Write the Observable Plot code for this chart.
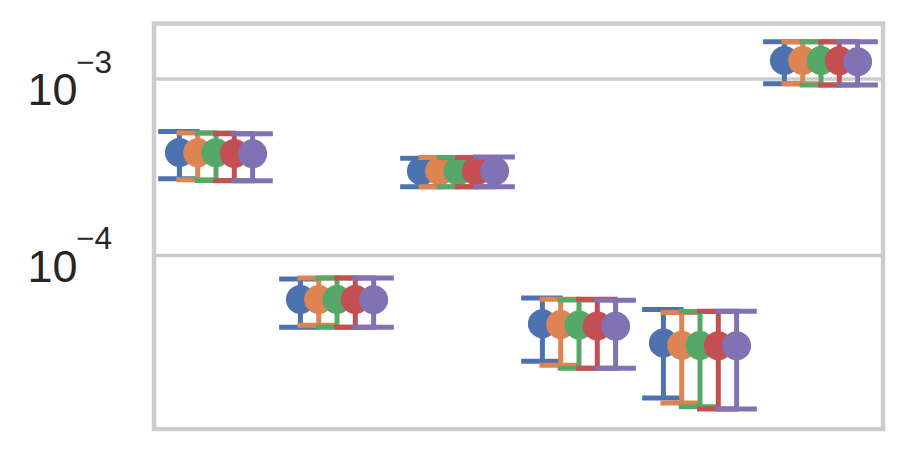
<!DOCTYPE html>
<html><head><meta charset="utf-8">
<script src="https://cdn.jsdelivr.net/npm/d3@7"></script>
<script src="https://cdn.jsdelivr.net/npm/@observablehq/plot@0.6"></script>
<style>body{margin:0;background:#fff}</style>
</head><body><div id="chart"></div>
<script>
const groups = ["1", "2", "3", "4", "5", "6"];
const seriesNames = ["A", "B", "C", "D", "E"];
const seriesColors = ["#4C72B0", "#DD8452", "#55A868", "#C44E52", "#8172B3"];

// point estimates, per series (rows) across groups (columns)
const means = [
  [3.83e-4, 5.64e-5, 3.01e-4, 4.11e-5, 3.19e-5, 1.275e-3],
  [3.82e-4, 5.64e-5, 3.01e-4, 4.06e-5, 3.10e-5, 1.275e-3],
  [3.82e-4, 5.64e-5, 3.01e-4, 4.04e-5, 3.09e-5, 1.272e-3],
  [3.79e-4, 5.64e-5, 3.01e-4, 3.99e-5, 3.08e-5, 1.269e-3],
  [3.77e-4, 5.62e-5, 3.01e-4, 3.97e-5, 3.08e-5, 1.252e-3]
];
const lowers = [
  [2.72e-4, 3.92e-5, 2.45e-4, 2.52e-5, 1.56e-5, 0.941e-3],
  [2.69e-4, 4.02e-5, 2.45e-4, 2.39e-5, 1.46e-5, 0.941e-3],
  [2.66e-4, 3.92e-5, 2.45e-4, 2.30e-5, 1.39e-5, 0.925e-3],
  [2.65e-4, 3.92e-5, 2.45e-4, 2.30e-5, 1.35e-5, 0.925e-3],
  [2.65e-4, 3.92e-5, 2.45e-4, 2.30e-5, 1.35e-5, 0.925e-3]
];
const uppers = [
  [5.04e-4, 7.35e-5, 3.56e-4, 5.74e-5, 4.95e-5, 1.624e-3],
  [4.95e-4, 7.46e-5, 3.59e-4, 5.66e-5, 4.76e-5, 1.624e-3],
  [4.95e-4, 7.46e-5, 3.59e-4, 5.59e-5, 4.81e-5, 1.624e-3],
  [4.89e-4, 7.46e-5, 3.59e-4, 5.66e-5, 4.84e-5, 1.624e-3],
  [4.89e-4, 7.46e-5, 3.62e-4, 5.57e-5, 4.84e-5, 1.624e-3]
];

const yTicks = [1e-4, 1e-3];
const tickBase = ["10", "10"];
const tickExponents = ["\u22124", "\u22123"];

const rows = [];
seriesNames.forEach((s, i) => groups.forEach((g, j) => rows.push({
  series: s, si: i, group: g, mean: means[i][j], lower: lowers[i][j], upper: uppers[i][j]
})));

const W = 900, H = 450;
const mL = 153.5, mR = 17.5, mT = 23, mB = 21.5;
const band = (W - mL - mR) / groups.length;
const dodge = 18.3;
const capHalf = 21;
const capInset = band / 2 - capHalf;
const lw = 5;
const font = "Liberation Sans, Arial, Helvetica, sans-serif";

const marks = [Plot.ruleY(yTicks, {stroke: "#cccccc", strokeWidth: 3.5})];
seriesNames.forEach((s, i) => {
  const data = rows.filter(d => d.series === s);
  const dx = (i - (seriesNames.length - 1) / 2) * dodge;
  marks.push(
    Plot.ruleX(data, {x: "group", y1: "lower", y2: "upper", stroke: "series", strokeWidth: lw, dx}),
    Plot.tickY(data, {x: "group", y: "lower", stroke: "series", strokeWidth: lw, dx, insetLeft: capInset, insetRight: capInset}),
    Plot.tickY(data, {x: "group", y: "upper", stroke: "series", strokeWidth: lw, dx, insetLeft: capInset, insetRight: capInset}),
    Plot.dot(data, {x: "group", y: "mean", r: 14.5, fill: "series", stroke: "none", dx})
  );
});
marks.push(
  Plot.frame({stroke: "#cccccc", strokeWidth: 4.5}),
  Plot.text(yTicks, {y: d => d, text: tickBase, frameAnchor: "left", textAnchor: "end", lineAnchor: "bottom",
    dx: -76.5, dy: 26, fontSize: 45, fontFamily: font, fill: "#262626"}),
  Plot.text(yTicks, {y: d => d, text: tickExponents, frameAnchor: "left", textAnchor: "start", lineAnchor: "bottom",
    dx: -78, dy: -6.3, fontSize: 31.5, fontFamily: font, fill: "#262626"})
);

const chart = Plot.plot({
  width: W, height: H,
  marginLeft: mL, marginRight: mR, marginTop: mT, marginBottom: mB,
  style: {background: "white", fontFamily: font},
  x: {domain: groups, padding: 0, axis: null},
  y: {type: "log", domain: [1.04e-5, 2.063e-3], axis: null},
  color: {domain: seriesNames, range: seriesColors},
  marks
});
document.getElementById("chart").appendChild(chart);
</script>
</body></html>
